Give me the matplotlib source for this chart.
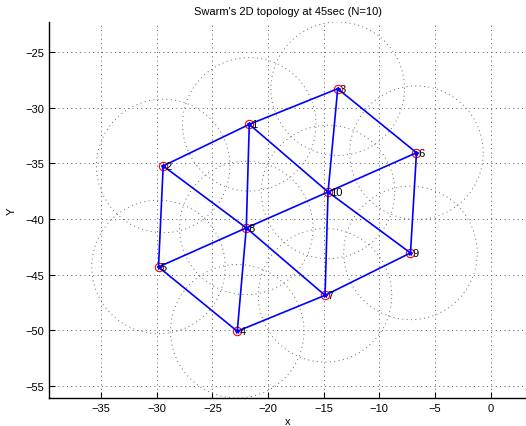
import numpy as np
from matplotlib import pyplot as plt
from matplotlib.ticker import MultipleLocator

plt.rcParams["font.family"] = ["Liberation Sans", "DejaVu Sans"]

# Node positions of the swarm at t = 45 s
node_ids = [1, 2, 3, 4, 5, 6, 7, 8, 9, 10]
node_x = [-21.69, -29.43, -13.74, -22.77, -29.85, -6.66, -14.88, -21.96, -7.20, -14.61]
node_y = [-31.50, -35.24, -28.30, -50.10, -44.32, -34.05, -46.87, -40.81, -43.06, -37.58]

# Communication links (node id pairs)
links = [
    (1, 3), (1, 2), (1, 8), (1, 10), (2, 8), (2, 5),
    (3, 10), (3, 6), (6, 10), (6, 9), (10, 8), (10, 9),
    (10, 7), (8, 5), (8, 4), (8, 7), (5, 4), (4, 7), (7, 9),
]

comm_radius = 6.0

W, H = 526, 427
fig = plt.figure(figsize=(W / 100, H / 100), dpi=100)
ax_left, ax_bottom, ax_w, ax_h = 49 / W, 28 / H, 477 / W, 376 / H
ax = fig.add_axes([ax_left, ax_bottom, ax_w, ax_h])

pos = {n: (x, y) for n, x, y in zip(node_ids, node_x, node_y)}

# Communication range circles
t = np.linspace(0, 2 * np.pi, 200)
for x, y in zip(node_x, node_y):
    ax.plot(x + comm_radius * np.cos(t), y + comm_radius * np.sin(t),
            linestyle=(0, (1, 3.5)), color="0.4", linewidth=0.7)

# Markers
ax.plot(node_x, node_y, "o", markerfacecolor="none", markeredgecolor="red",
        markersize=6, markeredgewidth=0.8)
ax.plot(node_x, node_y, "*", color="blue", markersize=3)

# Links
for a, b in links:
    ax.plot([pos[a][0], pos[b][0]], [pos[a][1], pos[b][1]], color="blue", linewidth=1.2)

for n, x, y in zip(node_ids, node_x, node_y):
    ax.text(x + 0.2, y, str(n), fontsize=8, ha="left", va="center")

# Limits: tight on circles in y, equal aspect in x
y_lo = min(node_y) - comm_radius
y_hi = max(node_y) + comm_radius
x_mid = (min(node_x) + max(node_x)) / 2
half_w = (y_hi - y_lo) * (ax_w * W) / (ax_h * H) / 2
ax.set_ylim(y_lo, y_hi)
ax.set_xlim(x_mid - half_w, x_mid + half_w)

ax.set_xticks(np.arange(-35, 1, 5))
ax.set_yticks(np.arange(-55, -24, 5))

ax.grid(True, linestyle=(0, (1, 3.5)), color="0.35", linewidth=0.7)
ax.set_axisbelow(True)
for s in ["top", "right"]:
    ax.spines[s].set_visible(False)
for s in ["left", "bottom"]:
    ax.spines[s].set_linewidth(1.0)
ax.tick_params(direction="in", length=4, labelsize=8, top=False, right=False)

ax.set_title("Swarm's 2D topology at 45sec (N=10)", fontsize=8, pad=6)
ax.set_xlabel("x", fontsize=8, labelpad=2)
ax.set_ylabel("Y", fontsize=8, labelpad=6)

fig.savefig("out.png", dpi=100)
